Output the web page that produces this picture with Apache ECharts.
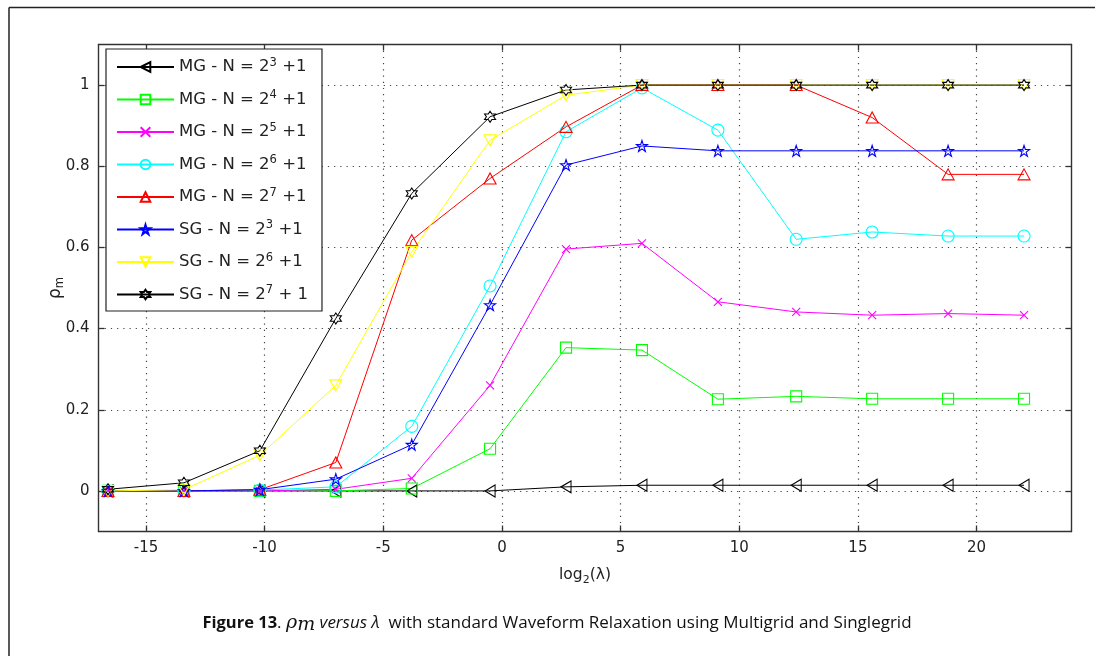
<!DOCTYPE html>
<html>
<head>
<meta charset="utf-8">
<script src="https://cdn.jsdelivr.net/npm/echarts@6/dist/echarts.min.js"></script>
<style>html,body{margin:0;padding:0;background:#fff;}#c{width:1095px;height:656px;}</style>
</head>
<body>
<div id="c"></div>
<script>
// ---- data ----
var xValues = [-16.6, -13.4, -10.2, -7.0, -3.8, -0.5, 2.7, 5.9, 9.1, 12.4, 15.6, 18.8, 22.0];
var mgN3 = [0, 0, 0, 0, 0, 0, 0.01, 0.014, 0.014, 0.014, 0.014, 0.014, 0.014];
var mgN4 = [0, 0, 0, 0, 0.006, 0.104, 0.353, 0.347, 0.226, 0.233, 0.227, 0.227, 0.227];
var mgN5 = [0, 0, 0, 0.004, 0.031, 0.26, 0.596, 0.61, 0.466, 0.441, 0.433, 0.437, 0.433];
var mgN6 = [0, 0, 0.002, 0.01, 0.159, 0.505, 0.885, 0.993, 0.889, 0.62, 0.638, 0.628, 0.628];
var mgN7 = [0, 0, 0.003, 0.07, 0.618, 0.77, 0.897, 1.0, 1.0, 1.0, 0.92, 0.78, 0.78];
var sgN3 = [0, 0, 0.003, 0.029, 0.114, 0.458, 0.803, 0.85, 0.838, 0.838, 0.838, 0.838, 0.838];
var sgN6 = [0, 0.003, 0.088, 0.26, 0.589, 0.864, 0.975, 1.0, 1.0, 1.0, 1.0, 1.0, 1.0];
var sgN7 = [0.004, 0.02, 0.099, 0.425, 0.733, 0.922, 0.988, 1.0, 1.0, 1.0, 1.0, 1.0, 1.0];
var seriesNames = ['MG - N = 2^3 +1', 'MG - N = 2^4 +1', 'MG - N = 2^5 +1', 'MG - N = 2^6 +1',
                   'MG - N = 2^7 +1', 'SG - N = 2^3 +1', 'SG - N = 2^6 +1', 'SG - N = 2^7 + 1'];
var xTicks = [-15, -10, -5, 0, 5, 10, 15, 20];
var yTicks = [0, 0.2, 0.4, 0.6, 0.8, 1];

// ---- styles ----
var colors = ['#000000', '#00ff00', '#ff00ff', '#00ffff', '#ff0000', '#0000ff', '#ffff00', '#000000'];
var SYM = {
  left: 'path://M0,5L10,0L10,10Z',
  rect: 'path://M0,0L10,0L10,10L0,10Z',
  cross: 'path://M0,0L10,10M0,10L10,0',
  circle: 'circle',
  up: 'path://M5,0L10,10L0,10Z',
  penta: 'path://M10,0L12.25,6.91L19.51,6.91L13.63,11.18L15.88,18.09L10,13.82L4.12,18.09L6.37,11.18L0.49,6.91L7.75,6.91Z',
  down: 'path://M0,0L10,0L5,10Z',
  hexa: 'path://M10,0L12.89,5L18.66,5L15.77,10L18.66,15L12.89,15L10,20L7.11,15L1.34,15L4.23,10L1.34,5L7.11,5Z'
};
var symbols = [SYM.left, SYM.rect, SYM.cross, SYM.circle, SYM.up, SYM.penta, SYM.down, SYM.hexa];
var symbolSizes = [[10, 12], 11, 8, 12, [12, 11], 11, [12, 11], 11];
var allData = [mgN3, mgN4, mgN5, mgN6, mgN7, sgN3, sgN6, sgN7];

var series = allData.map(function (vals, i) {
  return {
    name: seriesNames[i],
    type: 'line',
    data: xValues.map(function (x, k) { return [x, vals[k]]; }),
    symbol: symbols[i],
    symbolSize: symbolSizes[i],
    showAllSymbol: true,
    symbolKeepAspect: false,
    lineStyle: { color: colors[i], width: 1 },
    itemStyle: { color: 'rgba(255,255,255,0)', borderColor: colors[i], borderWidth: 1.1 },
    emphasis: { disabled: true },
    animation: false
  };
});

var FONT = 'DejaVu Sans, Liberation Sans, Arial, sans-serif';
var gridLine = { show: true, lineStyle: { color: '#444', width: 1.2, type: [1.2, 5] } };
var axisLine = { show: true, onZero: false, lineStyle: { color: '#333', width: 1.4 } };
var tickFont = { color: '#222', fontFamily: FONT, fontSize: 15 };

var chart = echarts.init(document.getElementById('c'), null, { renderer: 'canvas' });
chart.setOption({
  backgroundColor: '#fff',
  animation: false,
  grid: { left: 98.5, right: 23.5, top: 44.5, bottom: 124.5, containLabel: false },
  legend: {
    orient: 'vertical',
    left: 106, top: 49,
    padding: [8, 14, 8, 10],
    itemWidth: 57, itemHeight: 12, itemGap: 14,
    backgroundColor: '#fff',
    borderColor: '#222', borderWidth: 1.2, borderRadius: 0,
    selectedMode: false,
    data: seriesNames,
    formatter: function (name) {
      return '{t|' + name.replace(/\^(\d)/, '}{s|$1}{t|') + '}';
    },
    textStyle: {
      rich: {
        t: { fontFamily: FONT, fontSize: 16.5, color: '#222', lineHeight: 20 },
        s: { fontFamily: FONT, fontSize: 11.5, color: '#222', lineHeight: 13, verticalAlign: 'top' }
      }
    }
  },
  xAxis: [{
    type: 'value', position: 'bottom', min: -17, max: 24,
    axisLine: axisLine,
    axisTick: { show: true, inside: true, length: 6, lineStyle: { color: '#333', width: 1.3 }, customValues: xTicks },
    axisLabel: Object.assign({ margin: 9, customValues: xTicks }, tickFont),
    splitLine: gridLine,
    name: '{t|log}{s|2}{t|(λ)}',
    nameLocation: 'middle', nameGap: 32,
    nameTextStyle: {
      rich: {
        t: { fontFamily: FONT, fontSize: 15.5, color: '#222', lineHeight: 22 },
        s: { fontFamily: FONT, fontSize: 11, color: '#222', lineHeight: 12, verticalAlign: 'bottom' }
      }
    }
  }, {
    type: 'value', position: 'top', min: -17, max: 24,
    axisLine: axisLine,
    axisTick: { show: true, inside: true, length: 6, lineStyle: { color: '#333', width: 1.3 }, customValues: xTicks },
    axisLabel: { show: false },
    splitLine: { show: false }
  }],
  yAxis: [{
    type: 'value', position: 'left', min: -0.1, max: 1.1,
    axisLine: axisLine,
    axisTick: { show: true, inside: true, length: 6, lineStyle: { color: '#333', width: 1.3 }, customValues: yTicks },
    axisLabel: Object.assign({ margin: 9, customValues: yTicks, formatter: function (v) { return String(Math.round(v * 10) / 10); } }, tickFont),
    splitLine: gridLine,
    name: '{r|ρ}{m|m}',
    nameLocation: 'middle', nameGap: 32, nameRotate: 90, nameMoveOverlap: false,
    nameTextStyle: {
      rich: {
        r: { fontFamily: FONT, fontSize: 17, color: '#222', lineHeight: 22 },
        m: { fontFamily: FONT, fontSize: 11.5, color: '#222', lineHeight: 12, verticalAlign: 'bottom' }
      }
    }
  }, {
    type: 'value', position: 'right', min: -0.1, max: 1.1,
    axisLine: axisLine,
    axisTick: { show: true, inside: true, length: 6, lineStyle: { color: '#333', width: 1.3 }, customValues: yTicks },
    axisLabel: { show: false },
    splitLine: { show: false }
  }],
  graphic: [
    { type: 'line', shape: { x1: 9, y1: 7.5, x2: 1095, y2: 7.5 }, style: { stroke: '#222', lineWidth: 1.5 }, silent: true },
    { type: 'line', shape: { x1: 9, y1: 7.5, x2: 9, y2: 656 }, style: { stroke: '#222', lineWidth: 1.5 }, silent: true },
    {
      type: 'text', x: 557, y: 623, silent: true,
      style: {
        text: '{b|Figure 13}{n|. }{m|ρ}{ms|m}{i| versus λ }{n| with standard Waveform Relaxation using Multigrid and Singlegrid}',
        align: 'center', verticalAlign: 'middle',
        rich: {
          b: { fontFamily: 'Open Sans', fontWeight: 'bold', fontSize: 16.5, fill: '#111' },
          n: { fontFamily: 'Open Sans', fontSize: 17, fill: '#111' },
          i: { fontFamily: 'Open Sans', fontStyle: 'italic', fontSize: 17, fill: '#111' },
          m: { fontFamily: 'DejaVu Serif', fontStyle: 'italic', fontSize: 19, fill: '#111' },
          ms: { fontFamily: 'DejaVu Serif', fontStyle: 'italic', fontSize: 19, fill: '#111', padding: [4, 0, 0, 0] }
        }
      }
    }
  ],
  series: series
});
</script>
</body>
</html>
